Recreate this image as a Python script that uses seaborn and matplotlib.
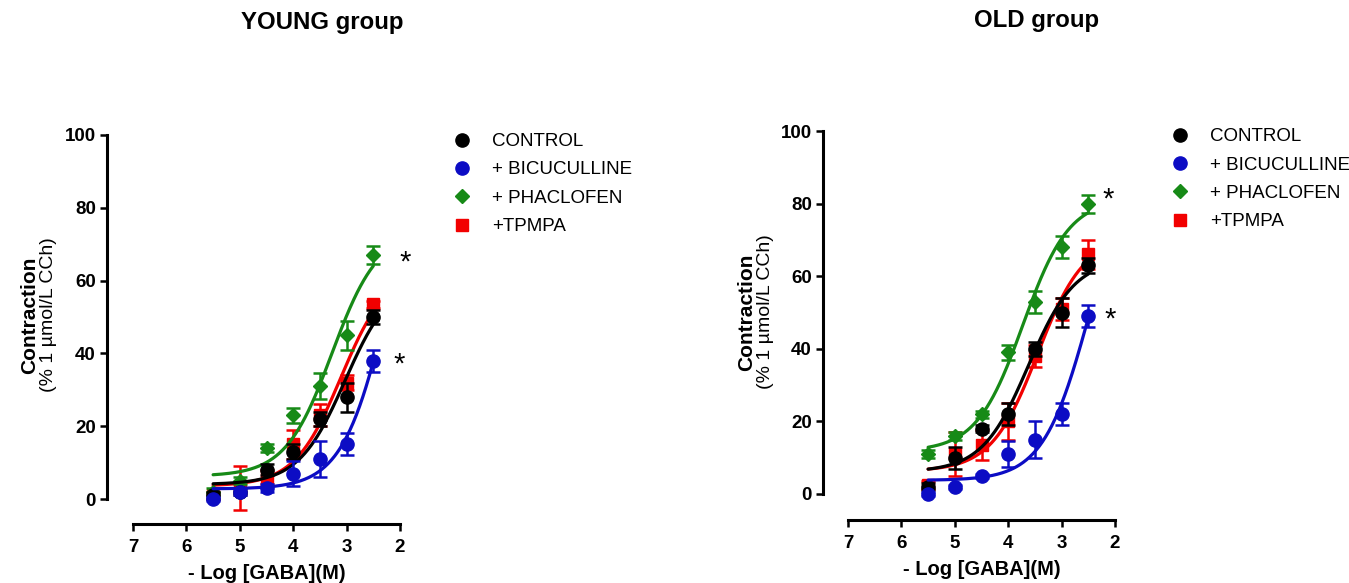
import numpy as np
import pandas as pd
import seaborn as sns
import matplotlib.pyplot as plt
from matplotlib.lines import Line2D

sns.set_style("ticks")
plt.rcParams['font.family'] = ['Liberation Sans', 'DejaVu Sans']
plt.rcParams.update({'text.color': 'black', 'axes.labelcolor': 'black',
                     'xtick.color': 'black', 'ytick.color': 'black',
                     'axes.edgecolor': 'black'})

# -log[GABA] doses
x_log = [5.5, 5.0, 4.5, 4.0, 3.5, 3.0, 2.5]

# YOUNG group (mean, sem)
young_control = [1, 2, 8, 13, 22, 28, 50]
young_control_err = [1, 1, 1.5, 2, 2, 4, 2]
young_bicuculline = [0, 2, 3, 7, 11, 15, 38]
young_bicuculline_err = [0.5, 1, 1, 3.5, 5, 3, 3]
young_phaclofen = [2, 5, 14, 23, 31, 45, 67]
young_phaclofen_err = [1, 1, 1, 2, 3.5, 4, 2.5]
young_tpmpa = [1, 3, 6, 15, 23, 32, 53.5]
young_tpmpa_err = [1, 6, 2, 4, 3, 2, 1]

# OLD group
old_control = [2, 10, 18, 22, 40, 50, 63]
old_control_err = [1, 3, 1, 3, 2, 4, 2]
old_bicuculline = [0, 2, 5, 11, 15, 22, 49]
old_bicuculline_err = [0.5, 0.5, 0.5, 3.5, 5, 3, 3]
old_phaclofen = [11, 16, 22, 39, 53, 68, 80]
old_phaclofen_err = [1, 1, 1, 2, 3, 3, 2.5]
old_tpmpa = [2.5, 11, 13.5, 20, 38, 51, 66]
old_tpmpa_err = [1, 6, 4, 5, 3, 3, 4]

labels = ['CONTROL', '+ BICUCULLINE', '+ PHACLOFEN', '+TPMPA']
colors = ['black', '#0c0cc4', '#178a17', '#f20000']
markers = ['o', 'o', 'D', 's']
msizes = [9.5, 9.5, 7, 8.5]
zorders = [4, 5, 3, 2]


def fit_curve(x, y):
    # sigmoid, hill slope 1, bottom/top by least squares for each pEC50
    x = np.asarray(x)
    y = np.asarray(y, dtype=float)
    best = None
    for p in np.arange(1.0, 6.0, 0.005):
        s = 1 / (1 + 10 ** (x - p))
        A = np.column_stack([1 - s, s])
        coef = np.linalg.lstsq(A, y, rcond=None)[0]
        sse = ((A @ coef - y) ** 2).sum()
        if best is None or sse < best[0]:
            best = (sse, coef[0], coef[1], p)
    return best[1:]


W, H = 1349, 583
fig = plt.figure(figsize=(W / 100, H / 100), dpi=100)
ax1 = fig.add_axes([133 / W, (H - 499) / H, 267 / W, 364 / H])
ax2 = fig.add_axes([848 / W, (H - 494) / H, 267 / W, 363 / H])

groups = [
    (ax1, [young_control, young_bicuculline, young_phaclofen, young_tpmpa],
     [young_control_err, young_bicuculline_err, young_phaclofen_err, young_tpmpa_err],
     (26, 25)),
    (ax2, [old_control, old_bicuculline, old_phaclofen, old_tpmpa],
     [old_control_err, old_bicuculline_err, old_phaclofen_err, old_tpmpa_err],
     (25, 26)),
]

xfit = np.linspace(5.5, 2.5, 200)
for ax, series, errs, offs in groups:
    for vals, err, c, m, ms, z in zip(series, errs, colors, markers, msizes, zorders):
        bottom, top, p = fit_curve(x_log, vals)
        yfit = bottom + (top - bottom) / (1 + 10 ** (xfit - p))
        sns.lineplot(x=xfit, y=yfit, color=c, lw=2.3, ax=ax, zorder=z, sort=False)
        ax.errorbar(x_log, vals, yerr=err, fmt='none', ecolor=c, elinewidth=1.8,
                    capsize=5, capthick=1.8, zorder=z, clip_on=False)
        ax.plot(x_log, vals, ls='none', marker=m, ms=ms, color=c, mec=c,
                zorder=z + 0.5, clip_on=False)
    ax.set_xlim(7, 2)
    ax.set_ylim(0, 100)
    ax.set_xticks([7, 6, 5, 4, 3, 2])
    ax.set_yticks([0, 20, 40, 60, 80, 100])
    sns.despine(ax=ax)
    ax.spines['left'].set_position(('outward', offs[0] * 0.72))
    ax.spines['bottom'].set_position(('outward', offs[1] * 0.72))
    for sp in ['left', 'bottom']:
        ax.spines[sp].set_linewidth(2.2)
    ax.tick_params(width=1.8, length=5, labelsize=13.5, pad=3)
    ax.tick_params(axis='x', pad=6)
    for t in ax.get_xticklabels() + ax.get_yticklabels():
        t.set_fontweight('bold')
    ax.set_xlabel('- Log [GABA](M)', fontsize=14.5, fontweight='bold', labelpad=5.5)
    ax.set_ylabel('')

# asterisks
ax1.text(1.91, 65, '*', fontsize=21, ha='center', va='center')
ax1.text(2.02, 37, '*', fontsize=21, ha='center', va='center')
ax2.text(2.13, 81, '*', fontsize=21, ha='center', va='center')
ax2.text(2.09, 48, '*', fontsize=21, ha='center', va='center')

# y labels
for xc1, xc2, yc in [(30, 49, 315), (747, 766, 312)]:
    fig.text(xc1 / W, 1 - yc / H, 'Contraction', rotation=90, ha='center', va='center',
             fontsize=15, fontweight='bold')
    fig.text(xc2 / W, 1 - yc / H, '(% 1 µmol/L CCh)', rotation=90, ha='center', va='center',
             fontsize=14)

# titles
fig.text(322 / W, 1 - 22 / H, 'YOUNG group', ha='center', va='center', fontsize=17.3, fontweight='bold')
fig.text(1037 / W, 1 - 20 / H, 'OLD group', ha='center', va='center', fontsize=17.3, fontweight='bold')

# legends
handles = [Line2D([], [], ls='none', marker=m, ms=ms, color=c) for m, ms, c in zip(markers, msizes, colors)]
for ax, lx, ly in [(ax1, 453, 133), (ax2, 1171, 128)]:
    ax.legend(handles, labels, loc='upper left', bbox_to_anchor=(lx / W, 1 - ly / H),
              bbox_transform=fig.transFigure, frameon=False, fontsize=13.5,
              handlelength=1, handletextpad=1.1, labelspacing=0.6,
              borderpad=0, borderaxespad=0)

fig.savefig('out.png', dpi=100)
